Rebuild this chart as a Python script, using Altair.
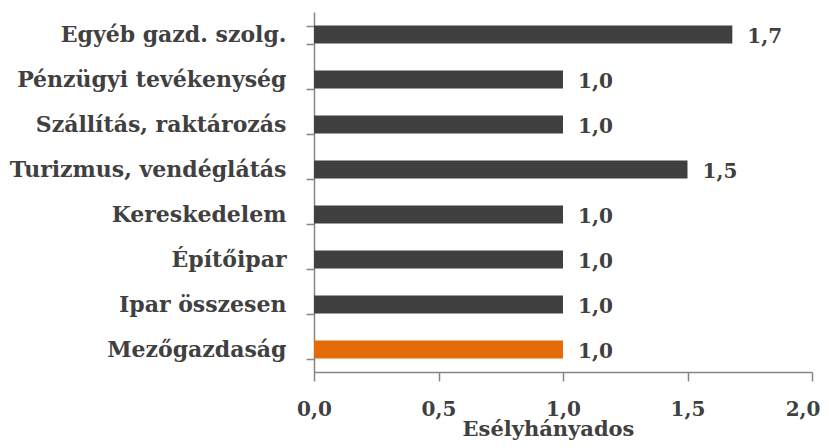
import altair as alt
import pandas as pd

categories = [
    "Egyéb gazd. szolg.",
    "Pénzügyi tevékenység",
    "Szállítás, raktározás",
    "Turizmus, vendéglátás",
    "Kereskedelem",
    "Építőipar",
    "Ipar összesen",
    "Mezőgazdaság",
]
values = [1.68, 1.0, 1.0, 1.50, 1.0, 1.0, 1.0, 1.0]
value_labels = ["1,7", "1,0", "1,0", "1,5", "1,0", "1,0", "1,0", "1,0"]
highlight = [False, False, False, False, False, False, False, True]
x_ticks = [0.0, 0.5, 1.0, 1.5, 2.0]

df = pd.DataFrame({
    "cat": categories,
    "val": values,
    "lbl": value_labels,
    "hl": highlight,
})

FONT = "DejaVu Serif"
TXT = "#404040"
AX = "#868686"

y_enc = alt.Y(
    "cat:N",
    sort=categories,
    scale=alt.Scale(paddingInner=0.6, paddingOuter=0.3),
    axis=alt.Axis(
        title=None,
        tickBand="extent",
        tickSize=8,
        labelPadding=20,
        labelLimit=400,
        labelFont=FONT,
        labelFontSize=22,
        labelFontWeight="bold",
        labelColor=TXT,
        domainColor=AX,
        tickColor=AX,
        domainWidth=1.5,
        tickWidth=1.5,
    ),
)

bars = alt.Chart(df).mark_bar().encode(
    x=alt.X(
        "val:Q",
        scale=alt.Scale(domain=[0, 2]),
        axis=alt.Axis(
            values=x_ticks,
            title="Esélyhányados",
            labelExpr="replace(format(datum.value, '.1f'), '.', ',')",
            labelFlush=False,
            labelAlign=alt.condition("datum.value == 2", alt.value("right"), alt.value("center")),
            labelOffset=alt.condition("datum.value == 2", alt.value(8), alt.value(0)),
            tickSize=9,
            labelPadding=18,
            grid=False,
            labelFont=FONT,
            labelFontSize=20,
            labelFontWeight="bold",
            labelColor=TXT,
            titleFont=FONT,
            titleFontSize=21,
            titleFontWeight="bold",
            titleColor=TXT,
            titlePadding=-1,
            titleX=234,
            domainColor=AX,
            tickColor=AX,
            domainWidth=1.5,
            tickWidth=1.5,
        ),
    ),
    y=y_enc,
    color=alt.Color(
        "hl:N",
        scale=alt.Scale(domain=[False, True], range=["#404040", "#E36C09"]),
        legend=None,
    ),
)

texts = alt.Chart(df).mark_text(
    align="left",
    baseline="middle",
    dx=15,
    dy=2,
    font=FONT,
    fontSize=20,
    fontWeight="bold",
    color=TXT,
).encode(
    x="val:Q",
    y=alt.Y("cat:N", sort=categories),
    text="lbl:N",
)

chart = (
    alt.layer(bars, texts)
    .properties(
        width=498,
        height=360,
        autosize=alt.AutoSizeParams(type="none"),
        padding={"left": 306, "top": 4, "right": 9, "bottom": 68},
    )
    .configure_view(stroke=None)
)

chart.save("out.html", embed_options={"renderer": "svg", "actions": False})
